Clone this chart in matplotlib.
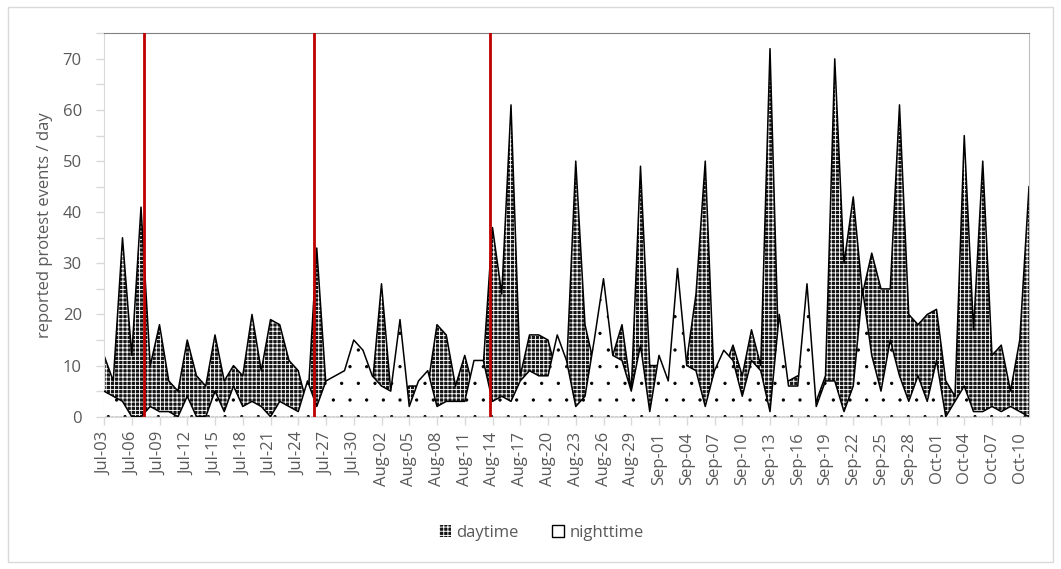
import numpy as np
import pandas as pd
import matplotlib
matplotlib.use("Agg")
import matplotlib.pyplot as plt
import matplotlib.hatch
from matplotlib.patches import Patch, Rectangle

# daily counts, Jul-03 .. Oct-11
start_date = "2020-07-03"
daytime = [12, 7, 35, 12, 41, 10, 18, 7, 5, 15,
           8, 6, 16, 7, 10, 8, 20, 9, 19, 18,
           11, 9, 2, 33, 6, 5, 7, 8, 6, 6,
           26, 5, 5, 6, 6, 6, 18, 16, 6, 12,
           5, 10, 37, 24, 61, 8, 16, 16, 15, 8,
           9, 50, 18, 10, 8, 12, 18, 5, 49, 10,
           10, 6, 8, 11, 24, 50, 5, 9, 14, 8,
           17, 10, 72, 8, 7, 8, 5, 3, 8, 70,
           30, 43, 24, 32, 25, 25, 61, 20, 18, 20,
           21, 7, 4, 55, 17, 50, 12, 14, 5, 15, 45]
nighttime = [5, 4, 3, 0, 0, 2, 1, 1, 0, 4,
             0, 0, 5, 1, 6, 2, 3, 2, 0, 3,
             2, 1, 7, 2, 7, 8, 9, 15, 13, 8,
             6, 5, 19, 2, 7, 9, 2, 3, 3, 3,
             11, 11, 3, 4, 3, 7, 9, 8, 8, 16,
             11, 2, 4, 15, 27, 12, 11, 5, 14, 1,
             12, 7, 29, 10, 9, 2, 9, 13, 11, 4,
             11, 9, 1, 20, 6, 6, 26, 2, 7, 7,
             1, 6, 25, 12, 5, 15, 8, 3, 8, 3,
             11, 0, 3, 6, 1, 1, 2, 1, 2, 1, 0]
# red markers, in days after Jul-03
event_days = [4.36, 22.74, 41.73]

dates = pd.date_range(start_date, periods=len(daytime), freq="D")
x = np.arange(len(dates))

# smaller dots for the nighttime pattern
matplotlib.hatch.SmallFilledCircles.size = 0.07

plt.rcParams["font.family"] = ["Open Sans", "DejaVu Sans"]
plt.rcParams["hatch.linewidth"] = 0.65
txt = "#595959"
light = "#d9d9d9"
fs = 12

fig = plt.figure(figsize=(10.61, 5.69), dpi=100)
ax = fig.add_axes([104 / 1061, 1 - 416.7 / 569, 925 / 1061, 383.4 / 569])

ax.fill_between(x, 0, daytime, facecolor="#141414", edgecolor="white",
                hatch="++++", linewidth=0, zorder=1)
ax.plot(x, daytime, color="black", lw=1.1, zorder=2)
ax.fill_between(x, 0, nighttime, facecolor="white", edgecolor="black",
                hatch=".", linewidth=0, zorder=3)
ax.plot(x, nighttime, color="black", lw=1.1, zorder=4)

for d in event_days:
    ax.axvline(d, color="#c00000", lw=2.0, zorder=5)

ax.set_xlim(0, len(dates) - 1)
ax.set_ylim(0, 75)
ax.set_yticks(np.arange(0, 71, 10))
ax.set_yticks(np.arange(0, 76, 5), minor=True)
ax.set_xticks(x[::3])
ax.set_xticklabels([d.strftime("%b-%d") for d in dates[::3]], rotation=90)

ax.tick_params(axis="both", which="both", color=light, length=6, width=1,
               labelcolor=txt, labelsize=fs)
ax.tick_params(axis="y", pad=10)
ax.tick_params(axis="x", pad=5)
for side in ["left", "bottom"]:
    ax.spines[side].set_color(light)
ax.spines["top"].set_color("#808080")
ax.spines["right"].set_color("#bfbfbf")

ax.set_ylabel("reported protest events / day", color=txt, fontsize=fs, labelpad=7)

handles = [Patch(facecolor="#141414", edgecolor="white", hatch="++++", linewidth=0),
           Patch(facecolor="white", edgecolor="black", linewidth=1.0)]
fig.legend(handles, ["daytime", "nighttime"], loc="center", bbox_to_anchor=(0.51, 0.063),
           ncol=2, frameon=False, fontsize=fs, labelcolor=txt,
           handlelength=0.75, handleheight=0.75, handletextpad=0.3, columnspacing=2.0)

fig.patches.append(Rectangle((8 / 1061, 7 / 569), 1045 / 1061, 555 / 569,
                             transform=fig.transFigure, fill=False,
                             edgecolor=light, lw=1))

fig.savefig("out.png", dpi=100)
